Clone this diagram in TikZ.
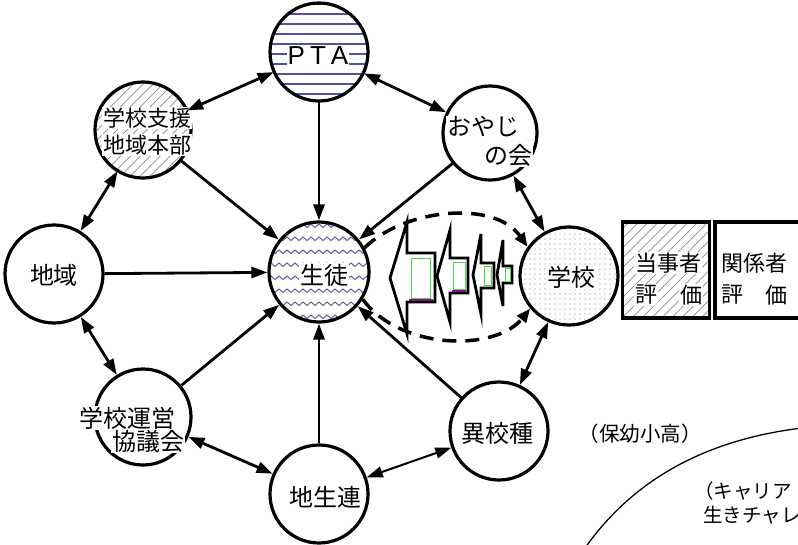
\documentclass[tikz,border=0pt]{standalone}
\usepackage{fontspec}
\setmainfont{Liberation Sans}
\newfontfamily\jp{Noto Sans CJK JP}
\usetikzlibrary{patterns.meta,arrows.meta}
\definecolor{ptablue}{RGB}{80,80,170}
\definecolor{zigblue}{RGB}{95,95,160}
\definecolor{hatchgray}{RGB}{140,140,140}
\definecolor{dotgray}{RGB}{120,120,120}
\definecolor{shaftgreen}{RGB}{70,220,70}
\definecolor{shaftmag}{RGB}{150,0,150}
\begin{document}
\begin{tikzpicture}[x=1pt,y=-1pt,
  ring/.style={circle,draw=black,line width=3.2pt,inner sep=0pt},
  lbl/.style={font=\jp\fontsize{24}{24}\selectfont, fill=white, inner sep=1pt},
  lblsm/.style={font=\jp\fontsize{22}{22}\selectfont, fill=white, inner sep=1pt},
  lblside/.style={font=\jp\fontsize{20.5}{20.5}\selectfont, inner sep=0pt},
  conn/.style={line width=2.8pt, draw=black},
  onearr/.style={conn,-{Triangle[length=16pt,width=11pt]}},
  twoarr/.style={conn,{Triangle[length=16pt,width=11pt]}-{Triangle[length=16pt,width=11pt]}},
  dashline/.style={line width=3.5pt, dash pattern=on 14pt off 9pt},
  bigarrow/.style={fill=white, draw=black, line width=2.8pt, line join=miter},
  inner/.style={draw=shaftgreen, line width=1pt},
  evalbox/.style={draw=black, line width=3.2pt, inner sep=0pt},
]
\useasboundingbox (0,0) rectangle (798,544);
\clip (0,0) rectangle (798,544);

% zigzag fill of the student circle
\begin{scope}
  \clip (319,272) circle[radius=50];
  \foreach \yy in {224,237,...,330}{
    \draw[zigblue, line width=1pt] (263,\yy) \foreach \k in {1,...,15}{ -- ++(4,3.5) -- ++(4,-3.5) };
  }
\end{scope}

% circles
\node[ring, minimum size=98pt, pattern={Lines[angle=0,distance=10pt,line width=1.3pt]}, pattern color=ptablue] (pta) at (319,52) {};
\node[ring, minimum size=96pt, pattern={Lines[angle=45,distance=7pt,line width=0.7pt]}, pattern color=hatchgray] (sien) at (143,130) {};
\node[ring, minimum size=94pt] (oyaji) at (490,133) {};
\node[ring, minimum size=98pt] (chiiki) at (54,274) {};
\node[ring, minimum size=100pt] (seito) at (319,272) {};
\node[ring, minimum size=98pt, pattern={Dots[distance=5pt,radius=0.6pt]}, pattern color=dotgray] (gakko) at (569,276) {};
\node[ring, minimum size=96pt] (unei) at (143,417) {};
\node[ring, minimum size=98pt] (ikoshu) at (499,431) {};
\node[ring, minimum size=98pt] (chisei) at (319,494) {};

% evaluation boxes
\node[evalbox, minimum width=87pt, minimum height=96pt, pattern={Lines[angle=45,distance=7pt,line width=0.7pt]}, pattern color=hatchgray] (tou) at (666,270) {};
\node[evalbox, minimum width=90pt, minimum height=96pt] (kan) at (760,270) {};

% labels
\node[font=\fontsize{26}{26}\selectfont, fill=white, inner sep=1pt] (tpta) at (318,56) {P\hspace{5pt}T\hspace{5pt}A};
\node[lblsm] (tsien1) at (147,118) {学校支援};
\node[lblsm] (tsien2) at (147,145) {地域本部};
\node[lbl] (toyaji1) at (483,127) {おやじ};
\node[lbl] (toyaji2) at (508,155) {の会};
\node[lbl] (tchiiki) at (54,275) {地域};
\node[lbl] (tseito) at (324,275) {生徒};
\node[lbl] (tgakko) at (571,277) {学校};
\node[lbl] (tunei1) at (127,418) {学校運営};
\node[lbl] (tunei2) at (148,441) {協議会};
\node[lbl] (tikoshu) at (497,433) {異校種};
\node[lbl] (tchisei) at (325,497) {地生連};
\node[lblsm] (ttou1) at (668,263) {当事者};
\node[lblsm] (ttou2) at (646,295) {評};
\node[lblsm] (ttou3) at (691,295) {価};
\node[lblsm] (tkan1) at (754,263) {関係者};
\node[lblsm] (tkan2) at (732,295) {評};
\node[lblsm] (tkan3) at (776,295) {価};
\node[lblside] (thoyo) at (640,434) {（保幼小高）};
\node[lblside, font=\jp\fontsize{19.5}{19.5}\selectfont, anchor=west] (tcar1) at (694,491) {（キャリア};
\node[lblside, font=\jp\fontsize{19.5}{19.5}\selectfont, anchor=west] (tcar2) at (703,515) {生きチャレ};

% connectors
\draw[twoarr] (pta) -- (sien);
\draw[twoarr] (pta) -- (oyaji);
\draw[onearr] (pta) -- (seito);
\draw[twoarr] (sien) -- (chiiki);
\draw[onearr] (sien) -- (seito);
\draw[onearr] (oyaji) -- (seito);
\draw[twoarr] (oyaji) -- (gakko);
\draw[onearr] (chiiki) -- (seito);
\draw[twoarr] (chiiki) -- (unei);
\draw[onearr] (unei) -- (seito);
\draw[twoarr] (unei) -- (chisei);
\draw[onearr] (chisei) -- (seito);
\draw[twoarr, line width=2pt] (chisei) -- (ikoshu);
\draw[onearr] (ikoshu) -- (seito);
\draw[twoarr] (ikoshu) -- (gakko);

% dashed loop between student and school
\draw[dashline, -{Triangle[length=14pt,width=11pt]}] (seito.28) .. controls (405,208) and (495,200) .. (gakko.145);
\draw[dashline, -{Triangle[length=14pt,width=11pt]}] (seito.-32) .. controls (400,350) and (495,352) .. (gakko.-140);

% block arrows pointing to the student
\draw[bigarrow] (390,278) -- (407,222) -- (407,253) -- (435,253) -- (435,302) -- (407,302) -- (407,334) -- cycle;
\draw[inner] (411,258) rectangle (430,298);
\draw[shaftmag, line width=1.2pt] (409,300) -- (433,300);
\draw[bigarrow] (437,276) -- (450,230) -- (450,258) -- (468,258) -- (468,293) -- (450,293) -- (450,322) -- cycle;
\draw[inner] (453,262) rectangle (465,289);
\draw[shaftmag, line width=1.2pt] (452,291) -- (466,291);
\draw[bigarrow] (473,275) -- (481,234) -- (481,263) -- (494,263) -- (494,288) -- (481,288) -- (481,314) -- cycle;
\draw[inner] (484,266) rectangle (491,285);
\draw[bigarrow] (497,275) -- (503,240) -- (503,266) -- (512,266) -- (512,283) -- (503,283) -- (503,306) -- cycle;
\draw[inner] (505,268) rectangle (510,281);

% curve at lower right
\coordinate (cs) at (585,548);
\coordinate (ce) at (802,428);
\draw[line width=1.3pt] (cs) .. controls (640,470) and (720,438) .. (ce);
\end{tikzpicture}
\end{document}
